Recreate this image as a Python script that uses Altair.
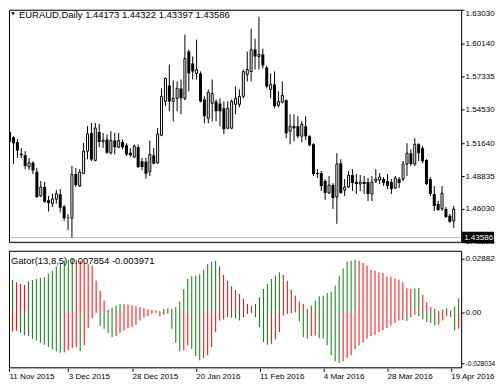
import altair as alt
import pandas as pd

FONT = "Liberation Sans"

# ---------------- data ----------------
opens = [1.5260,1.5215,1.5175,1.5073,1.5062,1.4963,1.4997,1.4920,1.4714,1.4790,
1.4677,1.4648,1.4686,1.4728,1.4623,1.4527,1.4524,1.4901,1.4799,1.4906,
1.5096,1.5252,1.5017,1.5260,1.5175,1.5195,1.5082,1.5187,1.5130,1.5175,
1.5147,1.5082,1.5045,1.5130,1.5011,1.5005,1.4920,1.5062,1.4997,1.5232,
1.5521,1.5657,1.5521,1.5547,1.5632,1.5547,1.5946,1.5844,1.5759,1.5759,
1.5538,1.5377,1.5504,1.5521,1.5504,1.5462,1.5292,1.5292,1.5496,1.5496,
1.5564,1.5751,1.5776,1.5963,1.5904,1.5921,1.5810,1.5623,1.5666,1.5487,
1.5513,1.5530,1.5266,1.5309,1.5309,1.5224,1.5309,1.5224,1.5155,1.4909,
1.4909,1.4841,1.4739,1.4807,1.4705,1.4994,1.4765,1.4790,1.4892,1.4833,
1.4816,1.4833,1.4833,1.4731,1.4841,1.4850,1.4858,1.4841,1.4833,1.4782,
1.4858,1.4858,1.4986,1.5079,1.4986,1.5155,1.5122,1.5020,1.4858,1.4731,
1.4646,1.4603,1.4603,1.4544,1.4501]

highs = [1.5275,1.5224,1.5198,1.5122,1.5096,1.5037,1.5011,1.4952,1.4841,1.4835,
1.4714,1.4733,1.4765,1.4773,1.4637,1.4558,1.4969,1.4952,1.4943,1.5167,
1.5309,1.5337,1.5337,1.5328,1.5252,1.5238,1.5266,1.5252,1.5252,1.5195,
1.5164,1.5122,1.5153,1.5153,1.5039,1.5039,1.5187,1.5122,1.5294,1.5632,
1.5725,1.5836,1.5700,1.5691,1.5708,1.6090,1.5963,1.5904,1.6048,1.5776,
1.5564,1.5623,1.5708,1.5538,1.5547,1.5521,1.5521,1.5538,1.5649,1.5623,
1.5793,1.5946,1.6141,1.6056,1.6243,1.5971,1.5827,1.5759,1.5776,1.5606,
1.5691,1.5538,1.5411,1.5411,1.5394,1.5351,1.5394,1.5232,1.5164,1.4943,
1.4926,1.4858,1.4884,1.4824,1.5079,1.5028,1.4858,1.4926,1.4943,1.4901,
1.4892,1.4884,1.4867,1.4884,1.4943,1.4909,1.4875,1.4901,1.4858,1.4884,
1.4875,1.5011,1.5164,1.5113,1.5207,1.5164,1.5139,1.5028,1.4875,1.4799,
1.4671,1.4799,1.4620,1.4561,1.4629]

lows = [1.5164,1.4988,1.5039,1.5037,1.4943,1.4935,1.4901,1.4697,1.4705,1.4657,
1.4580,1.4620,1.4648,1.4572,1.4501,1.4422,1.4357,1.4790,1.4790,1.4901,
1.5028,1.5011,1.5011,1.5130,1.5124,1.5073,1.5068,1.5068,1.5122,1.5111,
1.5054,1.5045,1.5037,1.4952,1.4935,1.4861,1.4884,1.4986,1.4988,1.5224,
1.5479,1.5436,1.5351,1.5436,1.5411,1.5530,1.5606,1.5708,1.5708,1.5513,
1.5334,1.5334,1.5351,1.5351,1.5309,1.5241,1.5283,1.5283,1.5411,1.5470,
1.5547,1.5691,1.5691,1.5793,1.5793,1.5802,1.5632,1.5547,1.5462,1.5470,
1.5504,1.5207,1.5155,1.5181,1.5207,1.5172,1.5190,1.5139,1.4884,1.4867,
1.4756,1.4680,1.4731,1.4603,1.4476,1.4731,1.4714,1.4782,1.4756,1.4731,
1.4756,1.4731,1.4671,1.4671,1.4824,1.4816,1.4799,1.4773,1.4731,1.4773,
1.4782,1.4841,1.4884,1.4969,1.4969,1.5011,1.4994,1.4807,1.4714,1.4586,
1.4586,1.4586,1.4527,1.4484,1.4442]

closes = [1.5175,1.5164,1.5102,1.5062,1.4969,1.4997,1.4932,1.4705,1.4790,1.4665,
1.4654,1.4688,1.4733,1.4614,1.4524,1.4524,1.4898,1.4807,1.4918,1.5096,
1.5243,1.5026,1.5294,1.5175,1.5190,1.5082,1.5187,1.5130,1.5187,1.5130,
1.5068,1.5062,1.5139,1.4960,1.4960,1.4903,1.5068,1.4988,1.5243,1.5564,
1.5717,1.5521,1.5547,1.5632,1.5547,1.5887,1.5759,1.5776,1.5793,1.5521,
1.5394,1.5598,1.5589,1.5436,1.5436,1.5283,1.5462,1.5521,1.5547,1.5564,
1.5776,1.5793,1.5963,1.5904,1.5921,1.5827,1.5649,1.5666,1.5479,1.5521,
1.5572,1.5249,1.5309,1.5292,1.5224,1.5326,1.5224,1.5147,1.4901,1.4901,
1.4799,1.4739,1.4807,1.4697,1.4986,1.4739,1.4790,1.4892,1.4824,1.4816,
1.4833,1.4816,1.4731,1.4833,1.4858,1.4875,1.4824,1.4799,1.4773,1.4867,
1.4824,1.4986,1.5079,1.4986,1.5155,1.5079,1.5011,1.4816,1.4731,1.4629,
1.4594,1.4739,1.4535,1.4493,1.4603]

gator_up = [0.01398,0.01669,0.01741,0.01615,0.01524,0.01470,0.01651,0.01741,0.01795,0.01849,
0.01885,0.02066,0.02246,0.02481,0.02607,0.02787,0.02841,0.02877,0.02840,0.02786,
0.02697,0.02606,0.02517,0.01705,0.01164,0.00622,0.00135,0.00244,0.00352,0.00442,
0.00424,0.00406,0.00370,0.00316,0.00262,0.00207,0.00153,0.00117,0.00081,0.00045,
0.00171,0.00207,0.00171,0.00262,0.00568,0.01254,0.01795,0.01939,0.01975,0.02048,
0.02300,0.02607,0.02733,0.02787,0.02481,0.02011,0.01705,0.01398,0.01200,0.00983,
0.00713,0.00442,0.00316,0.00442,0.00803,0.01254,0.01524,0.01795,0.01975,0.02156,
0.02011,0.01705,0.01218,0.00893,0.00568,0.00442,0.00171,0.00352,0.00622,0.00857,
0.00893,0.01037,0.01109,0.01434,0.01975,0.02372,0.02733,0.02787,0.02841,0.02787,
0.02661,0.02517,0.02300,0.02246,0.02156,0.02120,0.01939,0.01921,0.01831,0.01759,
0.01615,0.01290,0.01254,0.01290,0.01308,0.00929,0.00532,0.00262,0.00171,0.00063,
0.00135,0.00207,0.00063,0.00298,0.00749]

gator_dn = [-0.01362,-0.01128,-0.01055,-0.01019,-0.01128,-0.01272,-0.01308,-0.01452,-0.01542,-0.01669,
-0.01777,-0.01903,-0.02030,-0.02138,-0.02210,-0.02192,-0.02084,-0.01957,-0.01903,-0.02138,
-0.01813,-0.00875,-0.00334,-0.00045,-0.00767,-0.00911,-0.01128,-0.01362,-0.01308,-0.01128,
-0.01001,-0.00875,-0.00821,-0.00695,-0.00460,-0.00280,-0.00226,-0.00099,-0.00045,-0.00226,
-0.00153,-0.00081,-0.00911,-0.01669,-0.02138,-0.02084,-0.01813,-0.01993,-0.02390,-0.02625,
-0.02499,-0.02354,-0.01903,-0.01091,-0.00460,-0.00406,-0.00280,-0.00316,-0.00334,-0.00460,
-0.00280,-0.00099,-0.00045,-0.00280,-0.00821,-0.01633,-0.01777,-0.01723,-0.01488,-0.01091,
-0.00189,-0.00099,-0.00063,-0.00027,-0.00514,-0.01362,-0.01452,-0.01308,-0.01272,-0.01416,
-0.01452,-0.01813,-0.02354,-0.02679,-0.02751,-0.02679,-0.02499,-0.02354,-0.02030,-0.01813,
-0.01669,-0.01452,-0.01308,-0.01236,-0.01091,-0.01001,-0.00875,-0.00731,-0.00586,-0.00460,
-0.00442,-0.00478,-0.00280,-0.00153,-0.00226,-0.00406,-0.00550,-0.00586,-0.00731,-0.00695,
-0.00460,-0.00226,-0.00280,-0.01001,-0.00911]

gator_up_colors = ("GGGRRRGGGG" "GGGGGGGGRR" "RRRRRRRGGG" "RRRRRRRRRR" "GGRGGGGGGG"
                   "GGGGRRRRRR" "RRRGGGGGGG" "RRRRRRRGGG" "GGGGGGGGGR" "RRRRRRRRRR"
                   "RRRGGRRRRR" "GGRGG")
gator_dn_colors = ("RRRRGGGGGG" "GGGGGRRRRG" "RRRRGGGGRR" "RRRRRRRRRG" "RRGGGRRGGG"
                   "RRRRRRRGGG" "RRRGGGGRRR" "RRRRGGGRRG" "GGGGGRRRRR" "RRRRRRRRRR"
                   "RGRRGGGGGR" "RRGGR")

price_ticks = [1.63030, 1.60140, 1.57335, 1.54530, 1.51640, 1.48835, 1.46030, 1.43225]
gator_ticks = [0.02882, 0.0, -0.028034]
gator_tick_labels = ["0.02882", "0.00", "-0.028034"]
date_labels = ["11 Nov 2015", "3 Dec 2015", "28 Dec 2015", "20 Jan 2016",
               "11 Feb 2016", "4 Mar 2016", "28 Mar 2016", "19 Apr 2016"]
date_bars = [0, 16, 32, 48, 64, 80, 96, 112]
bid_price = 1.43586
title_text = "EURAUD,Daily  1.44173 1.44322 1.43397 1.43586"
gator_text = "Gator(13,8,5) 0.007854 -0.003971"

# ---------------- layout ----------------
W, H1, H2 = 454, 234, 118
AX_FS = 8.1
X_MIN, X_MAX = 1.125, 114.625
xs = alt.Scale(domain=[X_MIN, X_MAX], nice=False, zero=False)
ys1 = alt.Scale(domain=[1.4314, 1.6303], nice=False, zero=False)
ys2 = alt.Scale(domain=[-0.03057, 0.03328], nice=False, zero=False)

n = len(opens)
df = pd.DataFrame({"i": list(range(n)), "o": opens, "h": highs, "l": lows, "c": closes})
gdf = pd.DataFrame({"i": list(range(n)), "up": gator_up, "dn": gator_dn,
                    "uc": list(gator_up_colors), "dc": list(gator_dn_colors),
                    "zero": [0.0] * n})
one = pd.DataFrame({"k": [0]})
bid_df = pd.DataFrame({"p": [bid_price], "t": [f"{bid_price:.5f}"]})

yax1 = alt.Axis(orient="right", values=price_ticks, format=".5f", tickSize=3,
                tickColor="black", labelColor="black", labelFont=FONT, labelFontSize=AX_FS,
                labelPadding=1, domain=False, grid=False, title=None, labelFlush=0.5,
                labelOverlap=False)

g_expr = " : ".join(f"abs(datum.value - ({v})) < 1e-7 ? '{s}'"
                    for v, s in zip(gator_ticks, gator_tick_labels)) + " : ''"
yax2 = alt.Axis(orient="right", values=gator_ticks, labelExpr=g_expr, tickSize=3,
                tickColor="black", labelColor="black", labelFont=FONT,
                labelFontSize={"expr": f"datum.value < -0.01 ? 6.6 : {AX_FS}"},
                labelPadding=1, domain=False, grid=False, title=None, labelOverlap=False)

date_pos = [max(b, X_MIN) for b in date_bars]
d_expr = " : ".join(f"abs(datum.value - ({v})) < 0.01 ? '{s}'"
                    for v, s in zip(date_pos, date_labels)) + " : ''"
xax = alt.Axis(values=date_pos, labelExpr=d_expr, tickSize=3, tickColor="black",
               labelColor="black", labelFont=FONT, labelFontSize=AX_FS, labelAlign="left",
               labelBaseline="top", labelPadding=1, domain=False, grid=False, title=None,
               labelOverlap=False, labelFlush=False, labelBound=False)

X = alt.X("i:Q", scale=xs, axis=None)

base = alt.Chart(df)
bidline = alt.Chart(bid_df).mark_rule(color="#c0c0c0", strokeWidth=1).encode(
    y=alt.Y("p:Q", scale=ys1, axis=yax1))
wick = base.mark_rule(color="black", strokeWidth=1, clip=True).encode(
    x=X, y=alt.Y("l:Q", scale=ys1, axis=yax1), y2="h:Q")
bear = base.mark_bar(size=3, color="black", orient="vertical", clip=True).encode(
    x=X, y=alt.Y("o:Q", scale=ys1, axis=yax1), y2="c:Q"
).transform_filter(alt.datum.c < alt.datum.o)
bull = base.mark_bar(size=2, fill="white", stroke="black", strokeWidth=1,
                     orient="vertical", clip=True).encode(
    x=X, y=alt.Y("o:Q", scale=ys1, axis=yax1), y2="c:Q"
).transform_filter(alt.datum.c >= alt.datum.o)
frame1 = alt.Chart(one).mark_rect(fillOpacity=0, stroke="black", strokeWidth=1).encode(
    x=alt.value(0.5), x2=alt.value(W + 0.5), y=alt.value(0.5), y2=alt.value(H1 - 0.5))
box = alt.Chart(bid_df).mark_point(
    shape="M0,-0.36H2V0.36H0Z", filled=True, color="black", opacity=1, size=1024,
    strokeWidth=0).encode(x=alt.value(W + 1), y=alt.Y("p:Q", scale=ys1, axis=yax1))
boxtext = alt.Chart(bid_df).mark_text(
    color="white", font=FONT, fontSize=AX_FS, align="left", baseline="middle").encode(
    x=alt.value(W + 3), y=alt.Y("p:Q", scale=ys1, axis=yax1), text="t:N")
tri = alt.Chart(one).mark_point(shape="triangle-down", filled=True, color="black",
                                size=14, opacity=1).encode(x=alt.value(4), y=alt.value(4))
title1 = alt.Chart(one).mark_text(
    text=title_text, font=FONT, fontSize=9.5, color="black", align="left",
    baseline="top").encode(x=alt.value(10), y=alt.value(0))

top = alt.layer(bidline, wick, bear, bull, frame1, box, boxtext, tri, title1).properties(
    width=W, height=H1)

gbase = alt.Chart(gdf)
XG = alt.X("i:Q", scale=xs, axis=xax)
up_rule = gbase.mark_rule(strokeWidth=1, clip=True).encode(
    x=XG, y=alt.Y("up:Q", scale=ys2, axis=yax2), y2="zero:Q",
    color=alt.Color("uc:N", scale=alt.Scale(domain=["G", "R"], range=["#008000", "#ff0000"]),
                    legend=None))
dn_rule = gbase.mark_rule(strokeWidth=1, clip=True).encode(
    x=XG, y=alt.Y("dn:Q", scale=ys2, axis=yax2), y2="zero:Q",
    color=alt.Color("dc:N", scale=alt.Scale(domain=["G", "R"], range=["#008000", "#ff0000"]),
                    legend=None))
frame2 = alt.Chart(one).mark_rect(fillOpacity=0, stroke="black", strokeWidth=1).encode(
    x=alt.value(0.5), x2=alt.value(W + 0.5), y=alt.value(0.5), y2=alt.value(H2 - 0.5))
title2 = alt.Chart(one).mark_text(
    text=gator_text, font=FONT, fontSize=9.5, color="black", align="left",
    baseline="middle").encode(x=alt.value(2), y=alt.value(10))

bottom = alt.layer(up_rule, dn_rule, frame2, title2).properties(width=W, height=H2)

chart = alt.vconcat(top, bottom, spacing=3).properties(
    padding=0, background="white"
).configure_view(stroke=None).configure(font=FONT)

chart.save("out.html", embed_options={"renderer": "svg", "actions": False})
